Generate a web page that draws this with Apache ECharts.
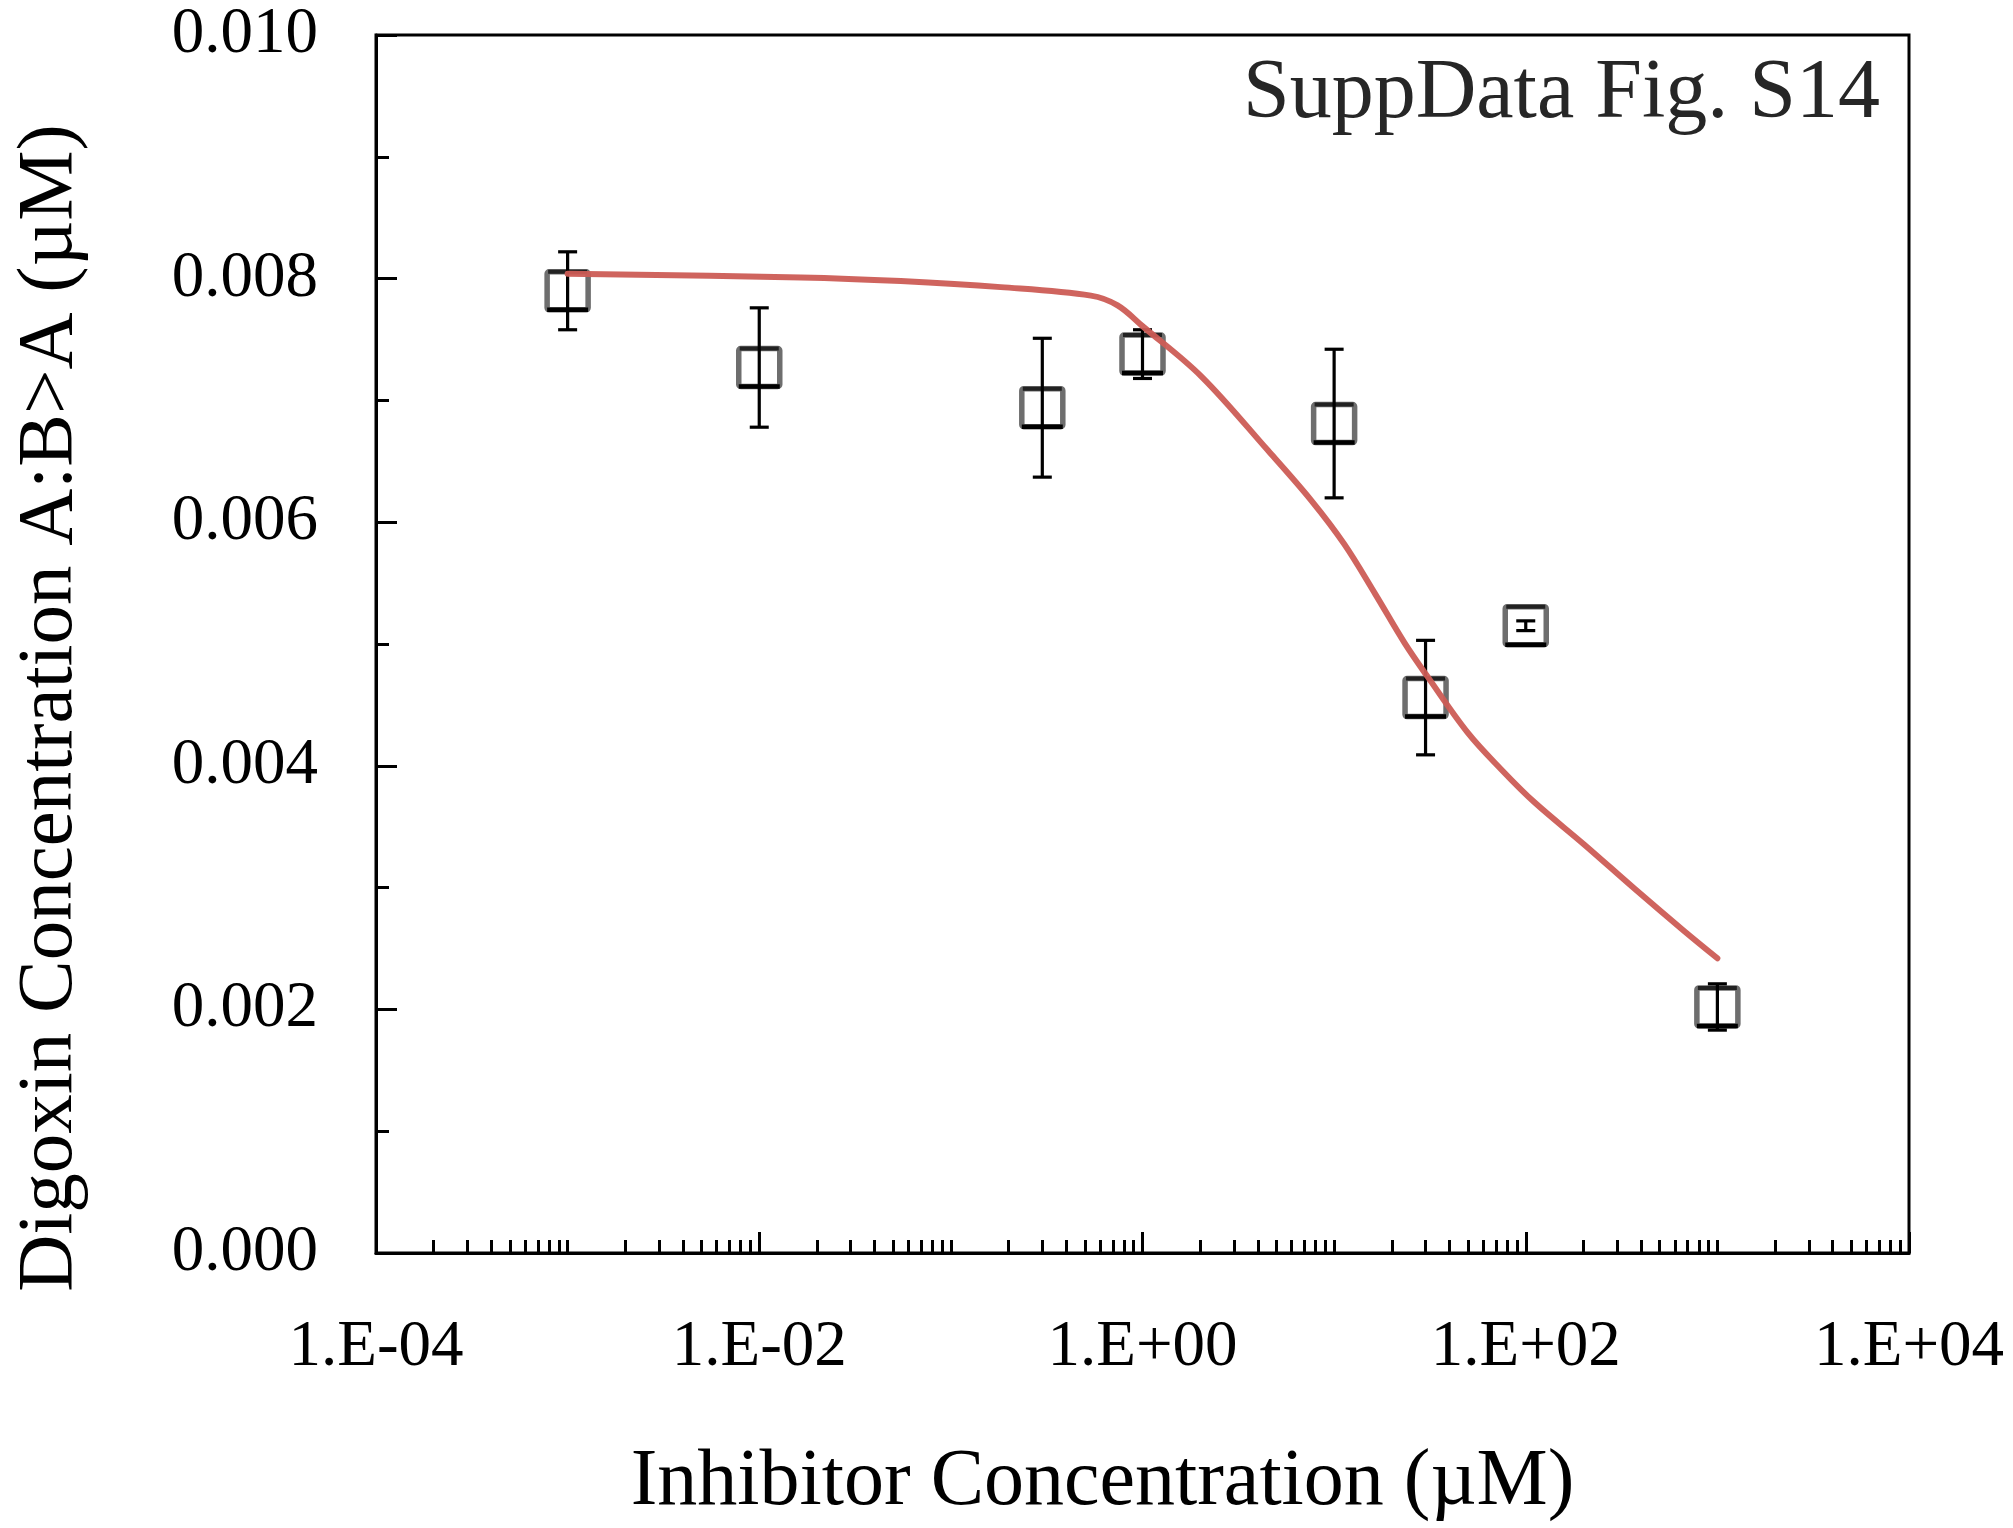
<!DOCTYPE html>
<html>
<head>
<meta charset="utf-8">
<script src="https://cdn.jsdelivr.net/npm/echarts@6/dist/echarts.min.js"></script>
<style>
html,body{margin:0;padding:0;background:#fff;}
#chart{width:2013px;height:1528px;}
</style>
</head>
<body>
<div id="chart"></div>
<script>
// ---- data ----
var xVals = [0.001, 0.01, 0.3, 1, 10, 30, 100, 1000];
var yMean = [0.00790, 0.00727, 0.00694, 0.00738, 0.00681, 0.00456, 0.00515, 0.00202];
var yErr  = [0.00032, 0.00049, 0.00057, 0.00020, 0.00061, 0.00047, 0.00004, 0.00019];

var curveX = [0.001, 0.0165, 0.0548, 0.182, 0.538, 0.741, 1.0, 2.02, 4.51, 7.59, 11.3, 16.4, 23.3, 30.8, 49.9, 74.5, 111, 203, 370, 675, 1000];
var curveY = [0.00804, 0.00801, 0.00798, 0.00793, 0.00786, 0.00778, 0.00761, 0.00720, 0.00659, 0.00618, 0.00582, 0.00541, 0.00501, 0.00473, 0.00427, 0.00397, 0.00370, 0.00335, 0.00299, 0.00264, 0.00242];

var xMajorTicks = [1e-4, 1e-2, 1, 1e2, 1e4];
var xTickLabels = ['1.E-04', '1.E-02', '1.E+00', '1.E+02', '1.E+04'];

// minor log ticks (2..9 of each decade, plus the odd decades)
var xMinorTicks = [];
for (var d = -4; d < 4; d++) {
  var base = Math.pow(10, d);
  if (d % 2 !== 0) xMinorTicks.push(base);
  for (var m = 2; m <= 9; m++) xMinorTicks.push(m * base);
}

var FONT = 'Liberation Serif';

var markerData = xVals.map(function (x, i) { return [x, yMean[i]]; });
var errData = xVals.map(function (x, i) { return [x, yMean[i] - yErr[i], yMean[i] + yErr[i]]; });
var curveData = curveX.map(function (x, i) { return [x, curveY[i]]; });

var chart = echarts.init(document.getElementById('chart'), null, {renderer: 'canvas'});

var option = {
  backgroundColor: '#ffffff',
  animation: false,
  title: {
    text: 'SuppData Fig. S14',
    right: 128,
    top: 48,
    textStyle: {fontFamily: FONT, fontSize: 84, fontWeight: 'normal', color: '#262626'}
  },
  grid: {
    left: 376, top: 35, right: 104, bottom: 264,
    show: true, borderColor: '#000', borderWidth: 3, backgroundColor: 'transparent'
  },
  xAxis: [
    {
      type: 'log', logBase: 10, min: 1e-4, max: 1e4,
      position: 'bottom',
      axisLine: {show: true, lineStyle: {color: '#000', width: 3}},
      axisTick: {show: true, inside: true, length: 21, customValues: xMajorTicks, lineStyle: {color: '#000', width: 3}},
      axisLabel: {
        show: true, customValues: xMajorTicks, margin: 62,
        fontFamily: FONT, fontSize: 65, color: '#000',
        formatter: function (v) {
          var e = Math.round(Math.log10(v));
          return xTickLabels[(e + 4) / 2] || '';
        }
      },
      splitLine: {show: false},
      minorTick: {show: false},
      name: 'Inhibitor Concentration (\u00b5M)',
      nameLocation: 'middle',
      nameGap: 190,
      nameTextStyle: {fontFamily: FONT, fontSize: 80, color: '#000', padding: [0, 80, 0, 0]}
    },
    {
      type: 'log', logBase: 10, min: 1e-4, max: 1e4,
      position: 'bottom',
      axisLine: {show: false},
      axisTick: {show: true, inside: true, length: 13, customValues: xMinorTicks, lineStyle: {color: '#000', width: 3}},
      axisLabel: {show: false},
      splitLine: {show: false}
    }
  ],
  yAxis: {
    type: 'value', min: 0, max: 0.01, interval: 0.002,
    axisLine: {show: true, lineStyle: {color: '#000', width: 3}},
    axisTick: {show: true, inside: true, length: 21, lineStyle: {color: '#000', width: 3}},
    minorTick: {show: true, splitNumber: 2, length: 13, lineStyle: {color: '#000', width: 3}},
    axisLabel: {
      margin: 58, fontFamily: FONT, fontSize: 65, color: '#000',
      verticalAlign: 'middle', padding: [16, 0, 0, 0],
      formatter: function (v) { return v.toFixed(3); }
    },
    splitLine: {show: false},
    minorSplitLine: {show: false},
    name: 'Digoxin Concentration A:B>A (\u00b5M)',
    nameLocation: 'middle',
    nameGap: 286,
    nameTextStyle: {fontFamily: FONT, fontSize: 79, color: '#000', padding: [0, 128, 0, 0]}
  },
  series: [
    {
      type: 'custom',
      name: 'markers',
      xAxisIndex: 0,
      z: 2,
      encode: {x: 0, y: 1},
      data: markerData,
      renderItem: function (params, api) {
        var p = api.coord([api.value(0), api.value(1)]);
        var hw = 20.5, hh = 19;
        return {
          type: 'group',
          children: [
            {type: 'rect', shape: {x: p[0] - hw, y: p[1] - hh, width: 2 * hw, height: 2 * hh, r: 2},
             style: {fill: '#fff', stroke: '#6e6e6e', lineWidth: 5.5}},
            {type: 'line', shape: {x1: p[0] - hw + 1, y1: p[1] - hh, x2: p[0] + hw - 1, y2: p[1] - hh},
             style: {stroke: '#222', lineWidth: 4}},
            {type: 'line', shape: {x1: p[0] - hw, y1: p[1] + hh, x2: p[0] + hw, y2: p[1] + hh},
             style: {stroke: '#000', lineWidth: 4.5}}
          ]
        };
      }
    },
    {
      type: 'custom',
      name: 'error',
      xAxisIndex: 0,
      z: 3,
      encode: {x: 0, y: [1, 2]},
      data: errData,
      renderItem: function (params, api) {
        var x = api.value(0);
        var pl = api.coord([x, api.value(1)]);
        var ph = api.coord([x, api.value(2)]);
        var cw = 9.5;
        var st = {stroke: '#000', lineWidth: 3.2};
        return {
          type: 'group',
          children: [
            {type: 'line', shape: {x1: ph[0], y1: ph[1], x2: pl[0], y2: pl[1]}, style: st},
            {type: 'line', shape: {x1: ph[0] - cw, y1: ph[1], x2: ph[0] + cw, y2: ph[1]}, style: st},
            {type: 'line', shape: {x1: pl[0] - cw, y1: pl[1], x2: pl[0] + cw, y2: pl[1]}, style: st}
          ]
        };
      }
    },
    {
      type: 'line',
      name: 'fit',
      xAxisIndex: 0,
      z: 4,
      data: curveData,
      smooth: 0.35,
      showSymbol: false,
      symbol: 'none',
      lineStyle: {color: '#cc5c55', width: 6, cap: 'round', opacity: 0.95}
    }
  ]
};

chart.setOption(option);
</script>
</body>
</html>
